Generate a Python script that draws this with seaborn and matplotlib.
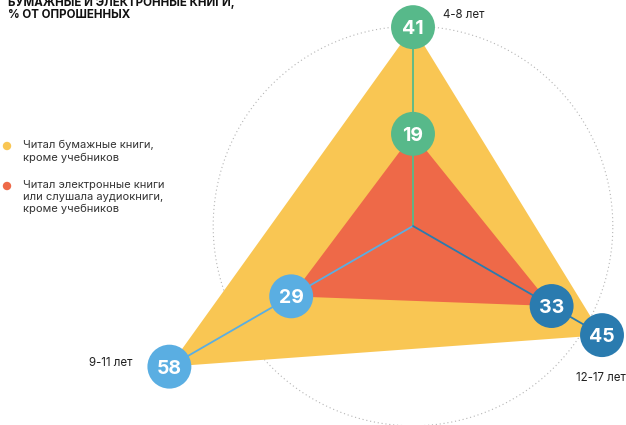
import numpy as np
import pandas as pd
import matplotlib
matplotlib.use("Agg")
import matplotlib.pyplot as plt
import seaborn as sns

# Age groups and survey shares (% of respondents)
ages = ["4-8 лет", "9-11 лет", "12-17 лет"]
paper_books = [41, 58, 45]
ebooks_audio = [19, 29, 33]
age_angles_deg = [90, 210, 330]

legend_labels = [
    "Читал бумажные книги,\nкроме учебников",
    "Читал электронные книги\nили слушала аудиокниги,\nкроме учебников",
]
title_lines = ["БУМАЖНЫЕ И ЭЛЕКТРОННЫЕ КНИГИ,", "% ОТ ОПРОШЕННЫХ"]

YELLOW = "#F9C653"
RED = "#EE6948"
GREEN = "#57B98A"
LIGHT_BLUE = "#5AAEE2"
DARK_BLUE = "#2A7BAF"
bubble_colors = [GREEN, LIGHT_BLUE, DARK_BLUE]

sns.set_theme(style="white")
plt.rcParams["font.family"] = ["Inter", "DejaVu Sans"]

W, H, DPI = 626, 425, 100
fig = plt.figure(figsize=(W / DPI, H / DPI), dpi=DPI)
fig.patch.set_facecolor("white")

# Polar axes centred on the chart's origin; 1 unit of value = 4.85 px
cx, cy = 413, 226
rmax = 60
scale = 4.85
rad_px = rmax * scale
ax = fig.add_axes([(cx - rad_px) / W, (H - cy - rad_px) / H,
                   2 * rad_px / W, 2 * rad_px / H], projection="polar")
ax.set_ylim(0, rmax)
ax.axis("off")

theta = np.deg2rad(age_angles_deg)
df = pd.DataFrame({"age": ages, "theta": theta,
                   "paper": paper_books, "ebook": ebooks_audio})

# Dotted reference circle
tt = np.linspace(0, 2 * np.pi, 400)
ax.plot(tt, np.full_like(tt, 41.2), linestyle=(0, (1, 2.5)), color="#b5b5b5",
        lw=0.8, zorder=1)

# Filled triangles
ax.fill(np.append(df["theta"], df["theta"][0]), np.append(df["paper"], df["paper"][0]),
        color=YELLOW, lw=0, zorder=2)
ax.fill(np.append(df["theta"], df["theta"][0]), np.append(df["ebook"], df["ebook"][0]),
        color=RED, lw=0, zorder=3)

# Spokes from the centre out to each outer point
for th, r, c in zip(df["theta"], df["paper"], bubble_colors):
    ax.plot([th, th], [0, r], color=c, lw=1.3, zorder=4)

# Value bubbles
for col in ["paper", "ebook"]:
    sns.scatterplot(data=df, x="theta", y=col, hue="age", palette=bubble_colors,
                    s=1000, edgecolor="none", legend=False, ax=ax, zorder=5,
                    clip_on=False)
    for th, r in zip(df["theta"], df[col]):
        ax.text(th, r, str(r), ha="center", va="center_baseline", color="white",
                fontsize=14, fontweight="bold", zorder=6, clip_on=False)

# Age labels next to the outer bubbles
label_offsets = [(30, 12, "left"), (-37, 4, "right"), (-26, -43, "left")]
for (dx, dy, ha), th, r, name in zip(label_offsets, df["theta"], df["paper"], ages):
    ax.annotate(name, xy=(th, r), xytext=(dx, dy), textcoords="offset pixels",
                ha=ha, va="center", fontsize=8.3, color="#222222",
                annotation_clip=False)

# Title (top-left)
fig.text(8 / W, 1 - 3 / H, title_lines[0], ha="left", va="center",
         fontsize=8.3, fontweight="bold", color="#111111")
fig.text(8 / W, 1 - 15 / H, title_lines[1], ha="left", va="center",
         fontsize=8.3, fontweight="bold", color="#111111")

# Legend
for (ly, color, text) in [(146, YELLOW, legend_labels[0]), (186, RED, legend_labels[1])]:
    fig.text(23 / W, 1 - (ly - 6) / H, text, ha="left", va="top",
             fontsize=8, color="#333333", linespacing=1.25)
    fig.patches.append(matplotlib.patches.Circle(
        (7, H - ly), 3.5, transform=None, color=color))

fig.savefig("out.png", dpi=DPI)
